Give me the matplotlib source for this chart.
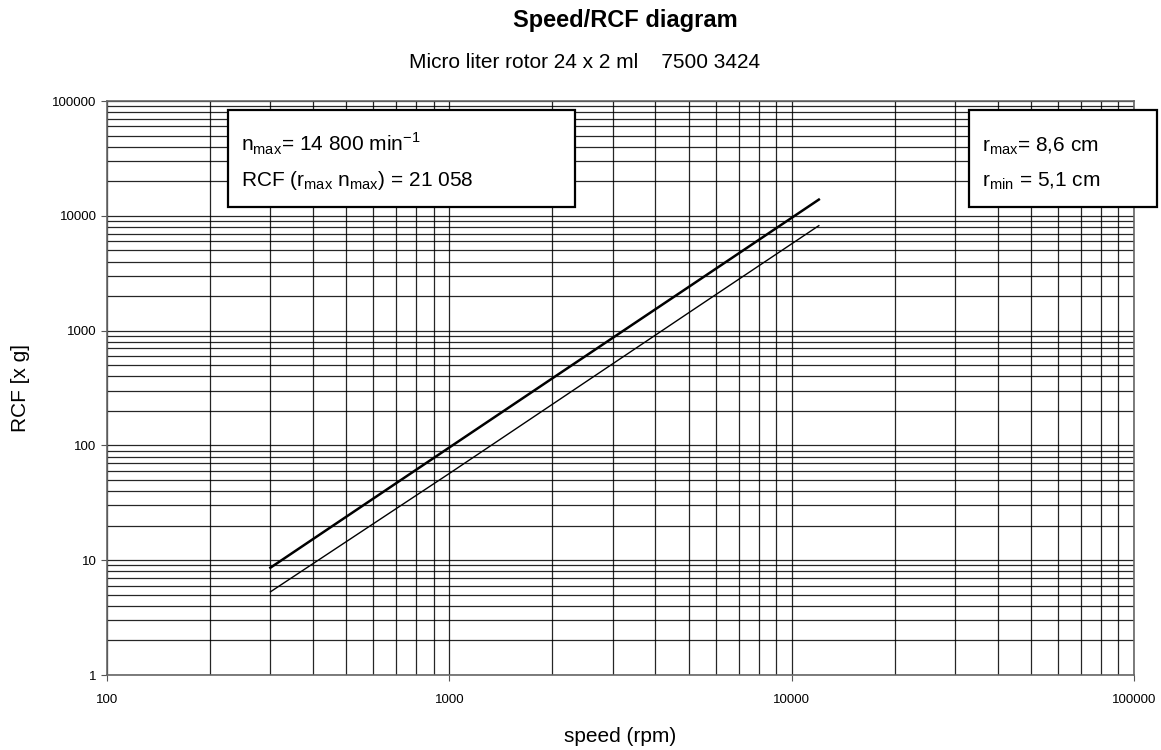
import matplotlib.pyplot as plt
from matplotlib.patches import Rectangle
from matplotlib.ticker import FixedLocator, LogLocator, FuncFormatter, NullFormatter

plt.rcParams['font.family'] = ['Liberation Sans', 'DejaVu Sans']
plt.rcParams['mathtext.fontset'] = 'custom'
plt.rcParams['mathtext.rm'] = 'Liberation Sans'

# data
speed = [300, 1000, 2600, 5000, 12000]
rcf_rmax = [8.6, 96, 650, 2400, 13850]
rcf_rmin = [5.3, 57, 386, 1430, 8210]
x_ticks = [100, 1000, 10000, 100000]
y_ticks = [1, 10, 100, 1000, 10000, 100000]

fig = plt.figure(figsize=(11.61, 7.5), dpi=100)
ax = fig.add_axes([0.0922, 0.1, 0.8846, 0.7653])

ax.plot(speed, rcf_rmax, color='black', lw=1.8)
ax.plot(speed, rcf_rmin, color='black', lw=1.0)

ax.set_xscale('log')
ax.set_yscale('log')
ax.set_xlim(100, 100000)
ax.set_ylim(1, 100000)

ax.xaxis.set_major_locator(FixedLocator(x_ticks))
ax.yaxis.set_major_locator(FixedLocator(y_ticks))
ax.xaxis.set_minor_locator(LogLocator(base=10, subs=range(2, 10), numticks=20))
ax.yaxis.set_minor_locator(LogLocator(base=10, subs=range(2, 10), numticks=20))
fmt = FuncFormatter(lambda v, p: '%d' % v)
ax.xaxis.set_major_formatter(fmt)
ax.yaxis.set_major_formatter(fmt)
ax.xaxis.set_minor_formatter(NullFormatter())
ax.yaxis.set_minor_formatter(NullFormatter())

ax.grid(True, which='both', color='black', lw=0.9, alpha=0.85)
ax.set_axisbelow(True)
ax.tick_params(which='major', direction='out', length=4, labelsize=9.5, color='#555555')
ax.tick_params(which='minor', length=0)
ax.tick_params(axis='x', pad=10)
for s in ax.spines.values():
    s.set_color('#666666')
    s.set_linewidth(1.2)

ax.set_xlabel('speed (rpm)', fontsize=15, labelpad=15)
ax.set_ylabel('RCF [x g]', fontsize=15, labelpad=16)

fig.text(625 / 1161, 0.972, 'Speed/RCF diagram', ha='center', va='center',
         fontsize=17, fontweight='bold')
fig.text(585 / 1161, 0.917, 'Micro liter rotor 24 x 2 ml    7500 3424', ha='center',
         va='center', fontsize=15)

W, H = 1161, 750
def box(x0, y0, x1, y1):
    fig.patches.append(Rectangle((x0 / W, 1 - y1 / H), (x1 - x0) / W, (y1 - y0) / H,
                                 transform=fig.transFigure, facecolor='white',
                                 edgecolor='black', lw=1.6, zorder=5))

box(228, 110, 575, 207)
box(969, 110, 1157, 207)
fig.text(241 / W, 1 - 144 / H, r'n$_{\mathrm{max}}$= 14 800 min$^{\mathrm{-1}}$',
         fontsize=15, va='center', zorder=6)
fig.text(241 / W, 1 - 180 / H, r'RCF (r$_{\mathrm{max}}$ n$_{\mathrm{max}}$) = 21 058',
         fontsize=15, va='center', zorder=6)
fig.text(982 / W, 1 - 146 / H, r'r$_{\mathrm{max}}$= 8,6 cm',
         fontsize=15, va='center', zorder=6)
fig.text(982 / W, 1 - 181 / H, r'r$_{\mathrm{min}}$ = 5,1 cm',
         fontsize=15, va='center', zorder=6)

fig.savefig('out.png', dpi=100)
